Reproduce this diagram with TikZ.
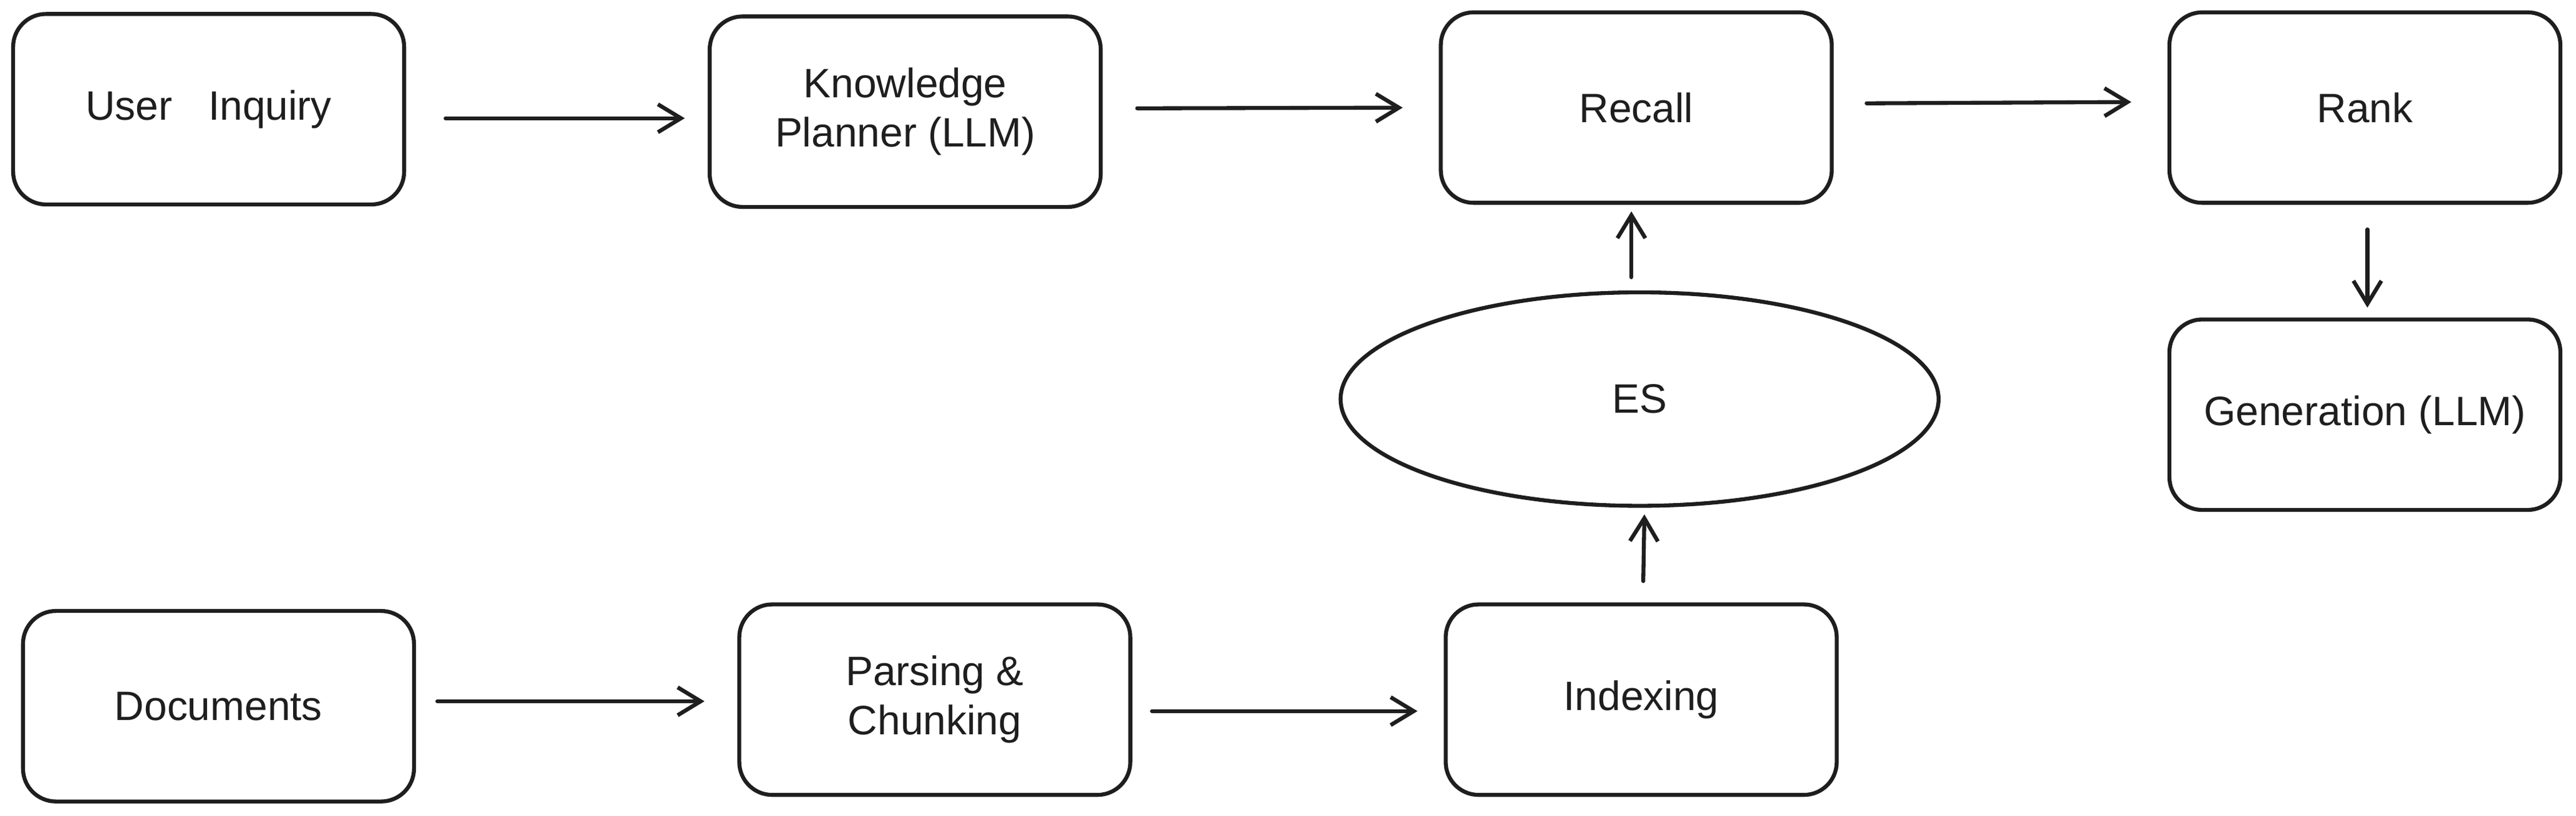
\documentclass[tikz,border=0pt]{standalone}
\usepackage{fontspec}
\setmainfont{Liberation Sans}
\usetikzlibrary{shapes.geometric,arrows.meta}
\definecolor{ink}{HTML}{1E1E1E}
\begin{document}
\begin{tikzpicture}[x=1pt,y=-1pt,
  box/.style={draw=ink,line width=2.4pt,rounded corners=20pt,minimum width=238pt,minimum height=116pt,inner sep=0pt,align=center,text=ink,font=\fontsize{25}{30}\selectfont},
  oval/.style={draw=ink,line width=2.4pt,ellipse,minimum width=364pt,minimum height=130pt,inner sep=0pt,text=ink,font=\fontsize{25}{30}\selectfont},
  conn/.style={draw=ink,line width=2.4pt,line cap=round,-{Straight Barb[length=14pt,width=17pt,line width=2.4pt]}}]
\useasboundingbox (0,0) rectangle (1568,496.5);
\fill[white] (0,0) rectangle (1568,496.5);
\node[box] (ui) at (127,66.5) {User\hspace{0.6em} Inquiry};
\node[box] (kp) at (551,68) {Knowledge\\Planner (LLM)};
\node[box] (recall) at (996,65.5) {Recall};
\node[box] (rank) at (1439.5,65.5) {Rank};
\node[box] (gen) at (1439.5,252.5) {Generation (LLM)};
\node[oval] (es) at (998,243) {ES};
\node[box] (doc) at (133,430) {Documents};
\node[box] (pc) at (569,426) {Parsing \&\\Chunking};
\node[box] (idx) at (999,426) {Indexing};
\draw[conn,shorten <=24pt,shorten >=14pt] ([yshift=-5.5pt]ui.east) -- ([yshift=-4pt]kp.west);
\draw[conn,shorten <=21pt,shorten >=22pt] ([yshift=2pt]kp.east) -- (recall.west);
\draw[conn,shorten <=20pt,shorten >=22pt] ([yshift=2.5pt]recall.east) -- ([yshift=3.5pt]rank.west);
\draw[conn,shorten <=15pt,shorten >=6pt] ([xshift=1.5pt]rank.south) -- ([xshift=1.5pt]gen.north);
\draw[conn,shorten <=8pt,shorten >=4pt] ([xshift=-5pt]es.north) -- ([xshift=-3pt]recall.south);
\draw[conn,shorten <=13pt,shorten >=4pt] ([xshift=1pt]idx.north) -- ([xshift=3pt]es.south);
\draw[conn,shorten <=13pt,shorten >=20pt] ([yshift=3pt]doc.east) -- ([yshift=-1pt]pc.west);
\draw[conn,shorten <=12pt,shorten >=16pt] ([yshift=-7pt]pc.east) -- ([yshift=-7pt]idx.west);
\end{tikzpicture}
\end{document}
